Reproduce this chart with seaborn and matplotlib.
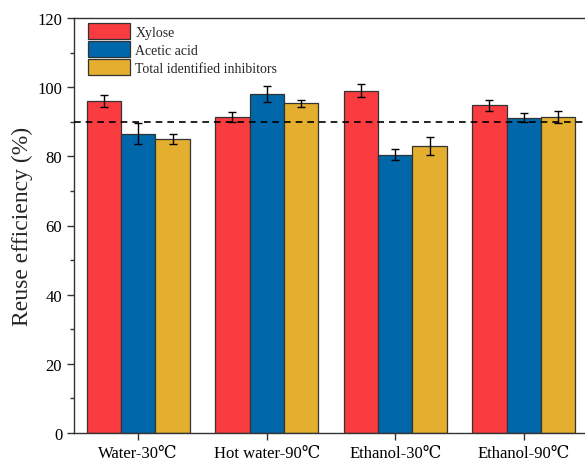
import matplotlib
matplotlib.use("Agg")
import matplotlib.pyplot as plt
import numpy as np
import pandas as pd
import seaborn as sns

groups = ["Water-30\u2103", "Hot water-90\u2103", "Ethanol-30\u2103", "Ethanol-90\u2103"]
series = ["Xylose", "Acetic acid", "Total identified inhibitors"]
xylose = [96.0, 91.3, 99.0, 94.7]
acetic = [86.5, 98.0, 80.5, 91.2]
total = [85.0, 95.3, 83.0, 91.3]
xylose_err = [1.7, 1.5, 1.8, 1.5]
acetic_err = [3.0, 2.3, 1.6, 1.2]
total_err = [1.5, 0.9, 2.5, 1.7]
colors = ["#FA3C40", "#0068AA", "#E4AE2F"]

df = pd.DataFrame({
    "group": groups * 3,
    "series": [s for s in series for _ in groups],
    "value": xylose + acetic + total,
    "err": xylose_err + acetic_err + total_err,
})

sns.set_style("ticks")
plt.rcParams["font.family"] = ["Liberation Serif", "DejaVu Serif"]

fig = plt.figure(figsize=(5.85, 4.64), dpi=100)
ax = fig.add_axes([74 / 585, 30 / 464, 514 / 585, 415 / 464])

sns.barplot(data=df, x="group", y="value", hue="series", palette=colors,
            width=0.8, edgecolor="#333333", linewidth=0.9, errorbar=None,
            saturation=1, ax=ax)

# error bars from the bar patches seaborn drew
for container, s in zip(ax.containers, series):
    sub = df[df["series"] == s]
    xs = [p.get_x() + p.get_width() / 2 for p in container.patches]
    ax.errorbar(xs, sub["value"].values, yerr=sub["err"].values, fmt="none",
                ecolor="black", elinewidth=1, capsize=3, capthick=1, zorder=5)

ax.axhline(90, color="black", linestyle=(0, (4, 3)), linewidth=1.2, zorder=6)

ax.set_ylim(0, 120)
ax.set_xlim(-0.5, 3.5)
ax.set_yticks(np.arange(0, 121, 20))
ax.set_yticks(np.arange(10, 120, 20), minor=True)
ax.tick_params(axis="both", which="major", direction="out", length=5, width=1,
               labelsize=12, colors="#333333", labelcolor="black")
ax.tick_params(axis="y", which="minor", direction="out", length=3, width=1, colors="#333333")
ax.set_xlabel("")
ax.set_ylabel("Reuse efficiency (%)", fontsize=17, labelpad=3)
for sp in ax.spines.values():
    sp.set_visible(True)
    sp.set_color("#333333")
    sp.set_linewidth(1)

leg = ax.legend(loc="upper left", bbox_to_anchor=(14 / 514, 1 - 5 / 415),
                frameon=False, fontsize=10, handlelength=3.0,
                handleheight=1.4, borderaxespad=0, borderpad=0,
                labelspacing=0.15, handletextpad=0.4)

fig.savefig("out.png", dpi=100)
